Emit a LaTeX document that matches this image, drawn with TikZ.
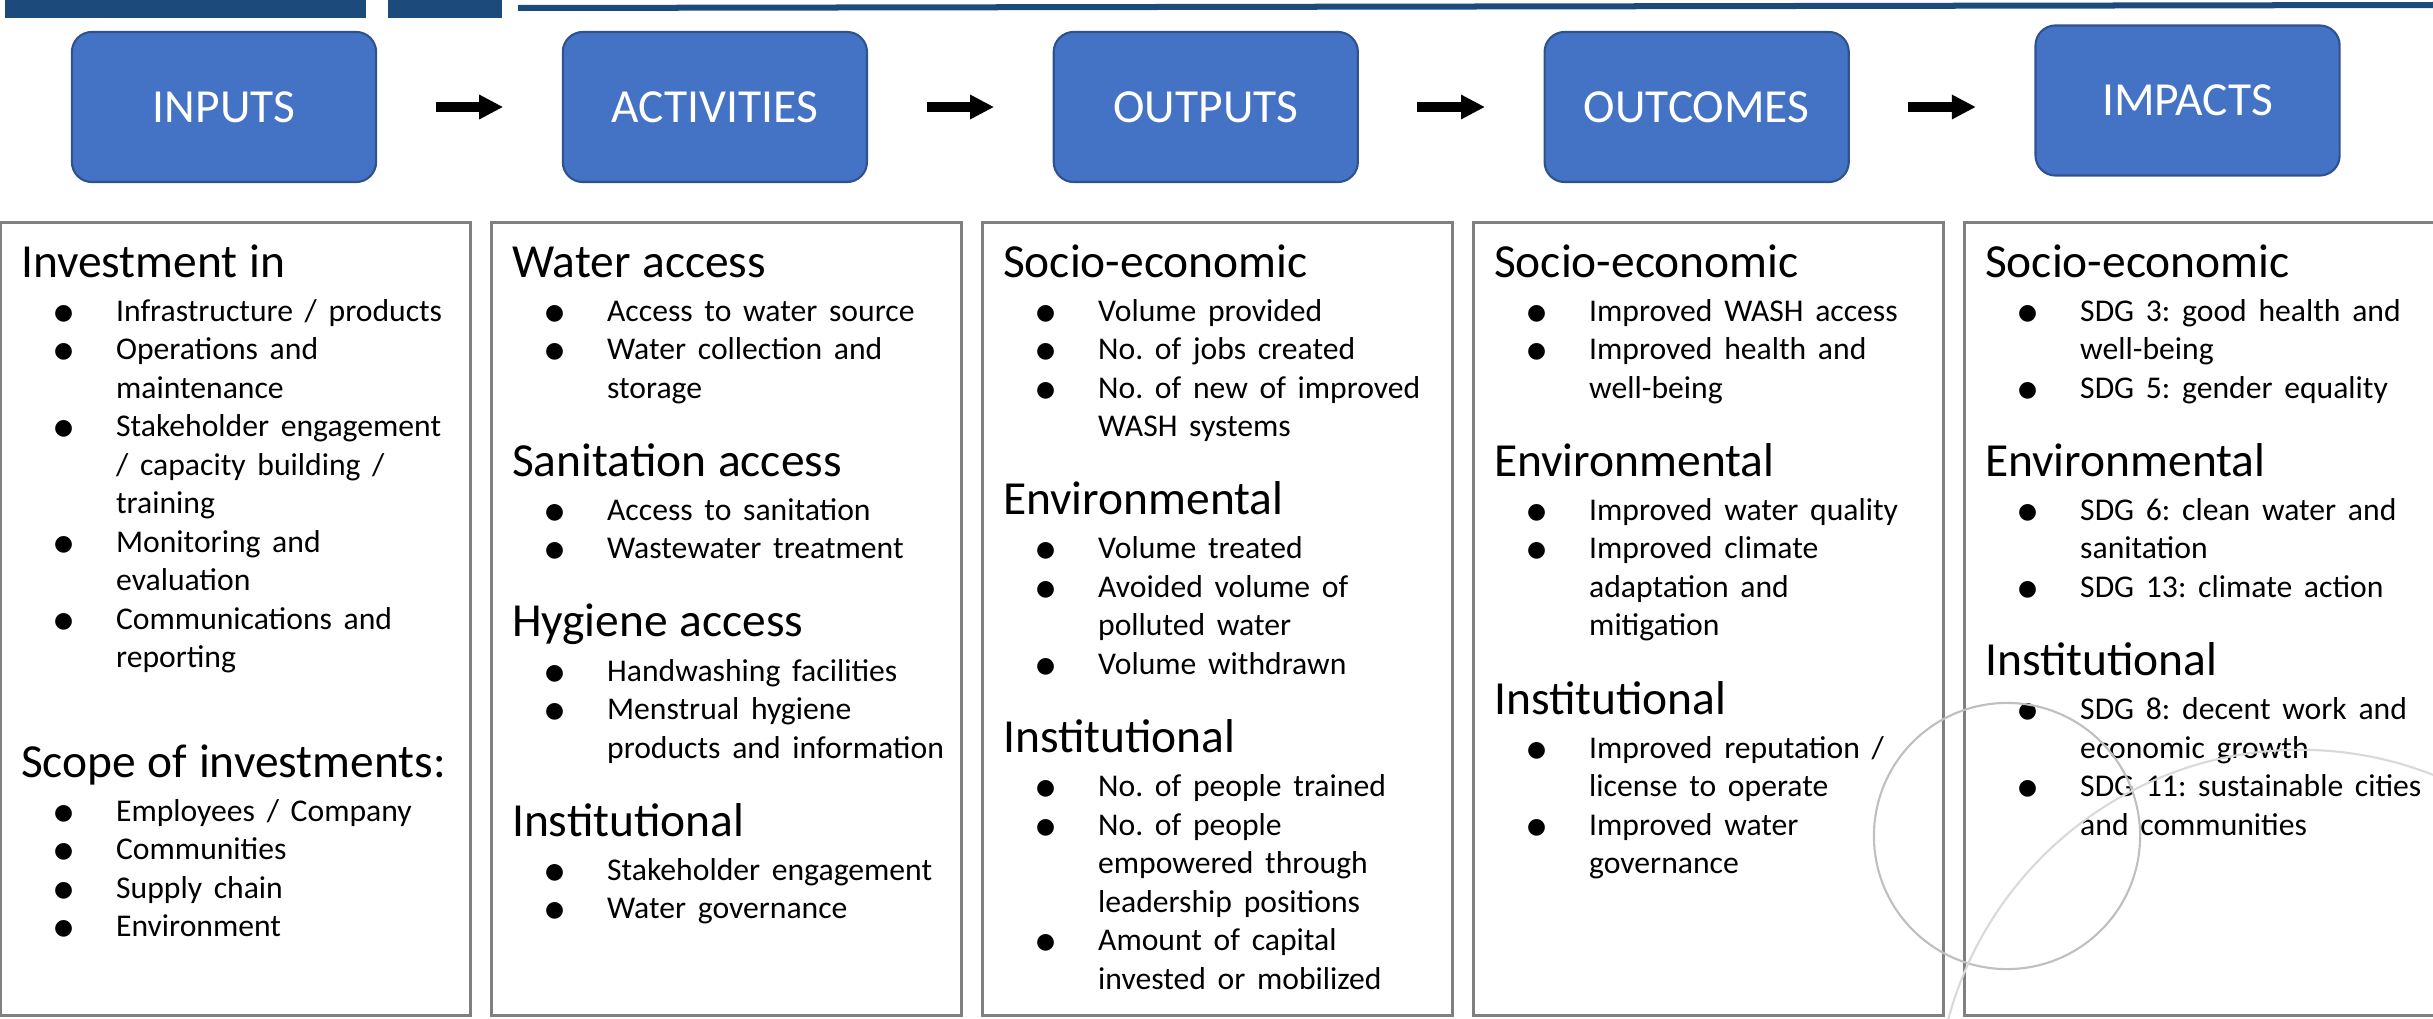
\documentclass[tikz,border=0pt]{standalone}
\usepackage{fontspec}
\setmainfont{Carlito}
\newfontfamily\symfont{DejaVu Sans}
\usetikzlibrary{shapes, arrows.meta, positioning, calc}
\definecolor{barblue}{RGB}{28,74,122}
\definecolor{stagefill}{RGB}{68,114,196}
\definecolor{stageline}{RGB}{47,82,143}
\frenchspacing
\lineskiplimit=-10cm
\normallineskiplimit=-10cm
\newcommand{\phead}[1]{{\fontsize{13.5pt}{0.385cm}\selectfont #1\par}\vskip0.055cm}
\newcommand{\pgap}{\vskip0.395cm}
\newcommand{\pitem}[1]{{\fontsize{9pt}{0.385cm}\selectfont\leftskip=0.95cm\noindent\llap{\makebox[0.95cm][l]{\hspace{0.33cm}\raisebox{0.02cm}{\symfont\fontsize{6.2pt}{6.2pt}\selectfont ●}}}#1\par}}
\tikzstyle{stage} = [draw=stageline, fill=stagefill, line width=0.6pt, rectangle, rounded corners=0.2cm, minimum width=3.04cm, minimum height=1.5cm, inner sep=0pt, text=white, font=\fontsize{13.5pt}{15pt}\selectfont]
\tikzstyle{flow} = [line width=0.09cm, -{Triangle[length=0.24cm, width=0.23cm]}, shorten <=0.585cm, shorten >=0.585cm]
\tikzstyle{panel} = [draw=black!50, line width=0.85pt, rectangle, minimum width=4.69cm, minimum height=7.92cm, inner sep=0pt]
\tikzstyle{paneltext} = [anchor=base west, inner sep=0pt, text width=4.5cm, align=left, execute at begin node={\lineskiplimit=-10cm}]
\tikzstyle{ring} = [draw=black!25, line width=0.6pt]

\begin{document}
\begin{tikzpicture}[x=0.01cm, y=-0.01cm]
	\useasboundingbox (0,0) rectangle (2433,1018);
	\fill[barblue] (5,0) rectangle (366,18);
	\fill[barblue] (388,0) rectangle (502,18);
	\draw[barblue, line width=0.06cm] (518,8) -- (2433,5);

	\node[stage] (inp) at (224,107) {INPUTS};
	\node[stage, right=1.845cm of inp] (act) {ACTIVITIES};
	\node[stage, right=1.845cm of act] (outp) {OUTPUTS};
	\node[stage, right=1.845cm of outp] (outc) {OUTCOMES};
	\node[stage, right=1.845cm of outc, yshift=0.065cm] (imp) {IMPACTS};
	\draw[flow] (inp) -- (act);
	\draw[flow] (act) -- (outp);
	\draw[flow] (outp) -- (outc);
	\draw[flow] (outc.east) -- (outc.east -| imp.west);

	\node[panel] (p1) at (235.5,619) {};
	\node[panel, right=0.1875cm of p1] (p2) {};
	\node[panel, right=0.1875cm of p2] (p3) {};
	\node[panel, right=0.1875cm of p3] (p4) {};
	\node[panel, right=0.1875cm of p4] (p5) {};

	\node[paneltext] (t1) at ($(p1.north west)+(21,56)$) {%
		\phead{Investment in}
		\pitem{Infrastructure / products}
		\pitem{Operations and\\maintenance}
		\pitem{Stakeholder engagement\\/ capacity building /\\training}
		\pitem{Monitoring and\\evaluation}
		\pitem{Communications and\\reporting}
		\vskip0.705cm
		\phead{Scope of investments:}
		\pitem{Employees / Company}
		\pitem{Communities}
		\pitem{Supply chain}
		\pitem{Environment}};
	\node[paneltext] (t2) at ($(p2.north west)+(21,56)$) {%
		\phead{Water access}
		\pitem{Access to water source}
		\pitem{Water collection and\\storage}
		\pgap\phead{Sanitation access}
		\pitem{Access to sanitation}
		\pitem{Wastewater treatment}
		\pgap\phead{Hygiene access}
		\pitem{Handwashing facilities}
		\pitem{Menstrual hygiene\\products and information}
		\pgap\phead{Institutional}
		\pitem{Stakeholder engagement}
		\pitem{Water governance}};
	\node[paneltext] (t3) at ($(p3.north west)+(21,56)$) {%
		\phead{Socio-economic}
		\pitem{Volume provided}
		\pitem{No. of jobs created}
		\pitem{No. of new of improved\\WASH systems}
		\pgap\phead{Environmental}
		\pitem{Volume treated}
		\pitem{Avoided volume of\\polluted water}
		\pitem{Volume withdrawn}
		\pgap\phead{Institutional}
		\pitem{No. of people trained}
		\pitem{No. of people\\empowered through\\leadership positions}
		\pitem{Amount of capital\\invested or mobilized}};
	\node[paneltext] (t4) at ($(p4.north west)+(21,56)$) {%
		\phead{Socio-economic}
		\pitem{Improved WASH access}
		\pitem{Improved health and\\well-being}
		\pgap\phead{Environmental}
		\pitem{Improved water quality}
		\pitem{Improved climate\\adaptation and\\mitigation}
		\pgap\phead{Institutional}
		\pitem{Improved reputation /\\license to operate}
		\pitem{Improved water\\governance}};
	\node[paneltext] (t5) at ($(p5.north west)+(21,56)$) {%
		\phead{Socio-economic}
		\pitem{SDG 3: good health and\\well-being}
		\pitem{SDG 5: gender equality}
		\pgap\phead{Environmental}
		\pitem{SDG 6: clean water and\\sanitation}
		\pitem{SDG 13: climate action}
		\pgap\phead{Institutional}
		\pitem{SDG 8: decent work and\\economic growth}
		\pitem{SDG 11: sustainable cities\\and communities}};

	\begin{scope}
		\clip (0,0) rectangle (2433,1018);
		\draw[ring] (2007,836) circle[radius=1.33cm];
		\draw[ring, draw=black!15] (2300,1114) circle[radius=3.64cm];
	\end{scope}
\end{tikzpicture}
\end{document}
